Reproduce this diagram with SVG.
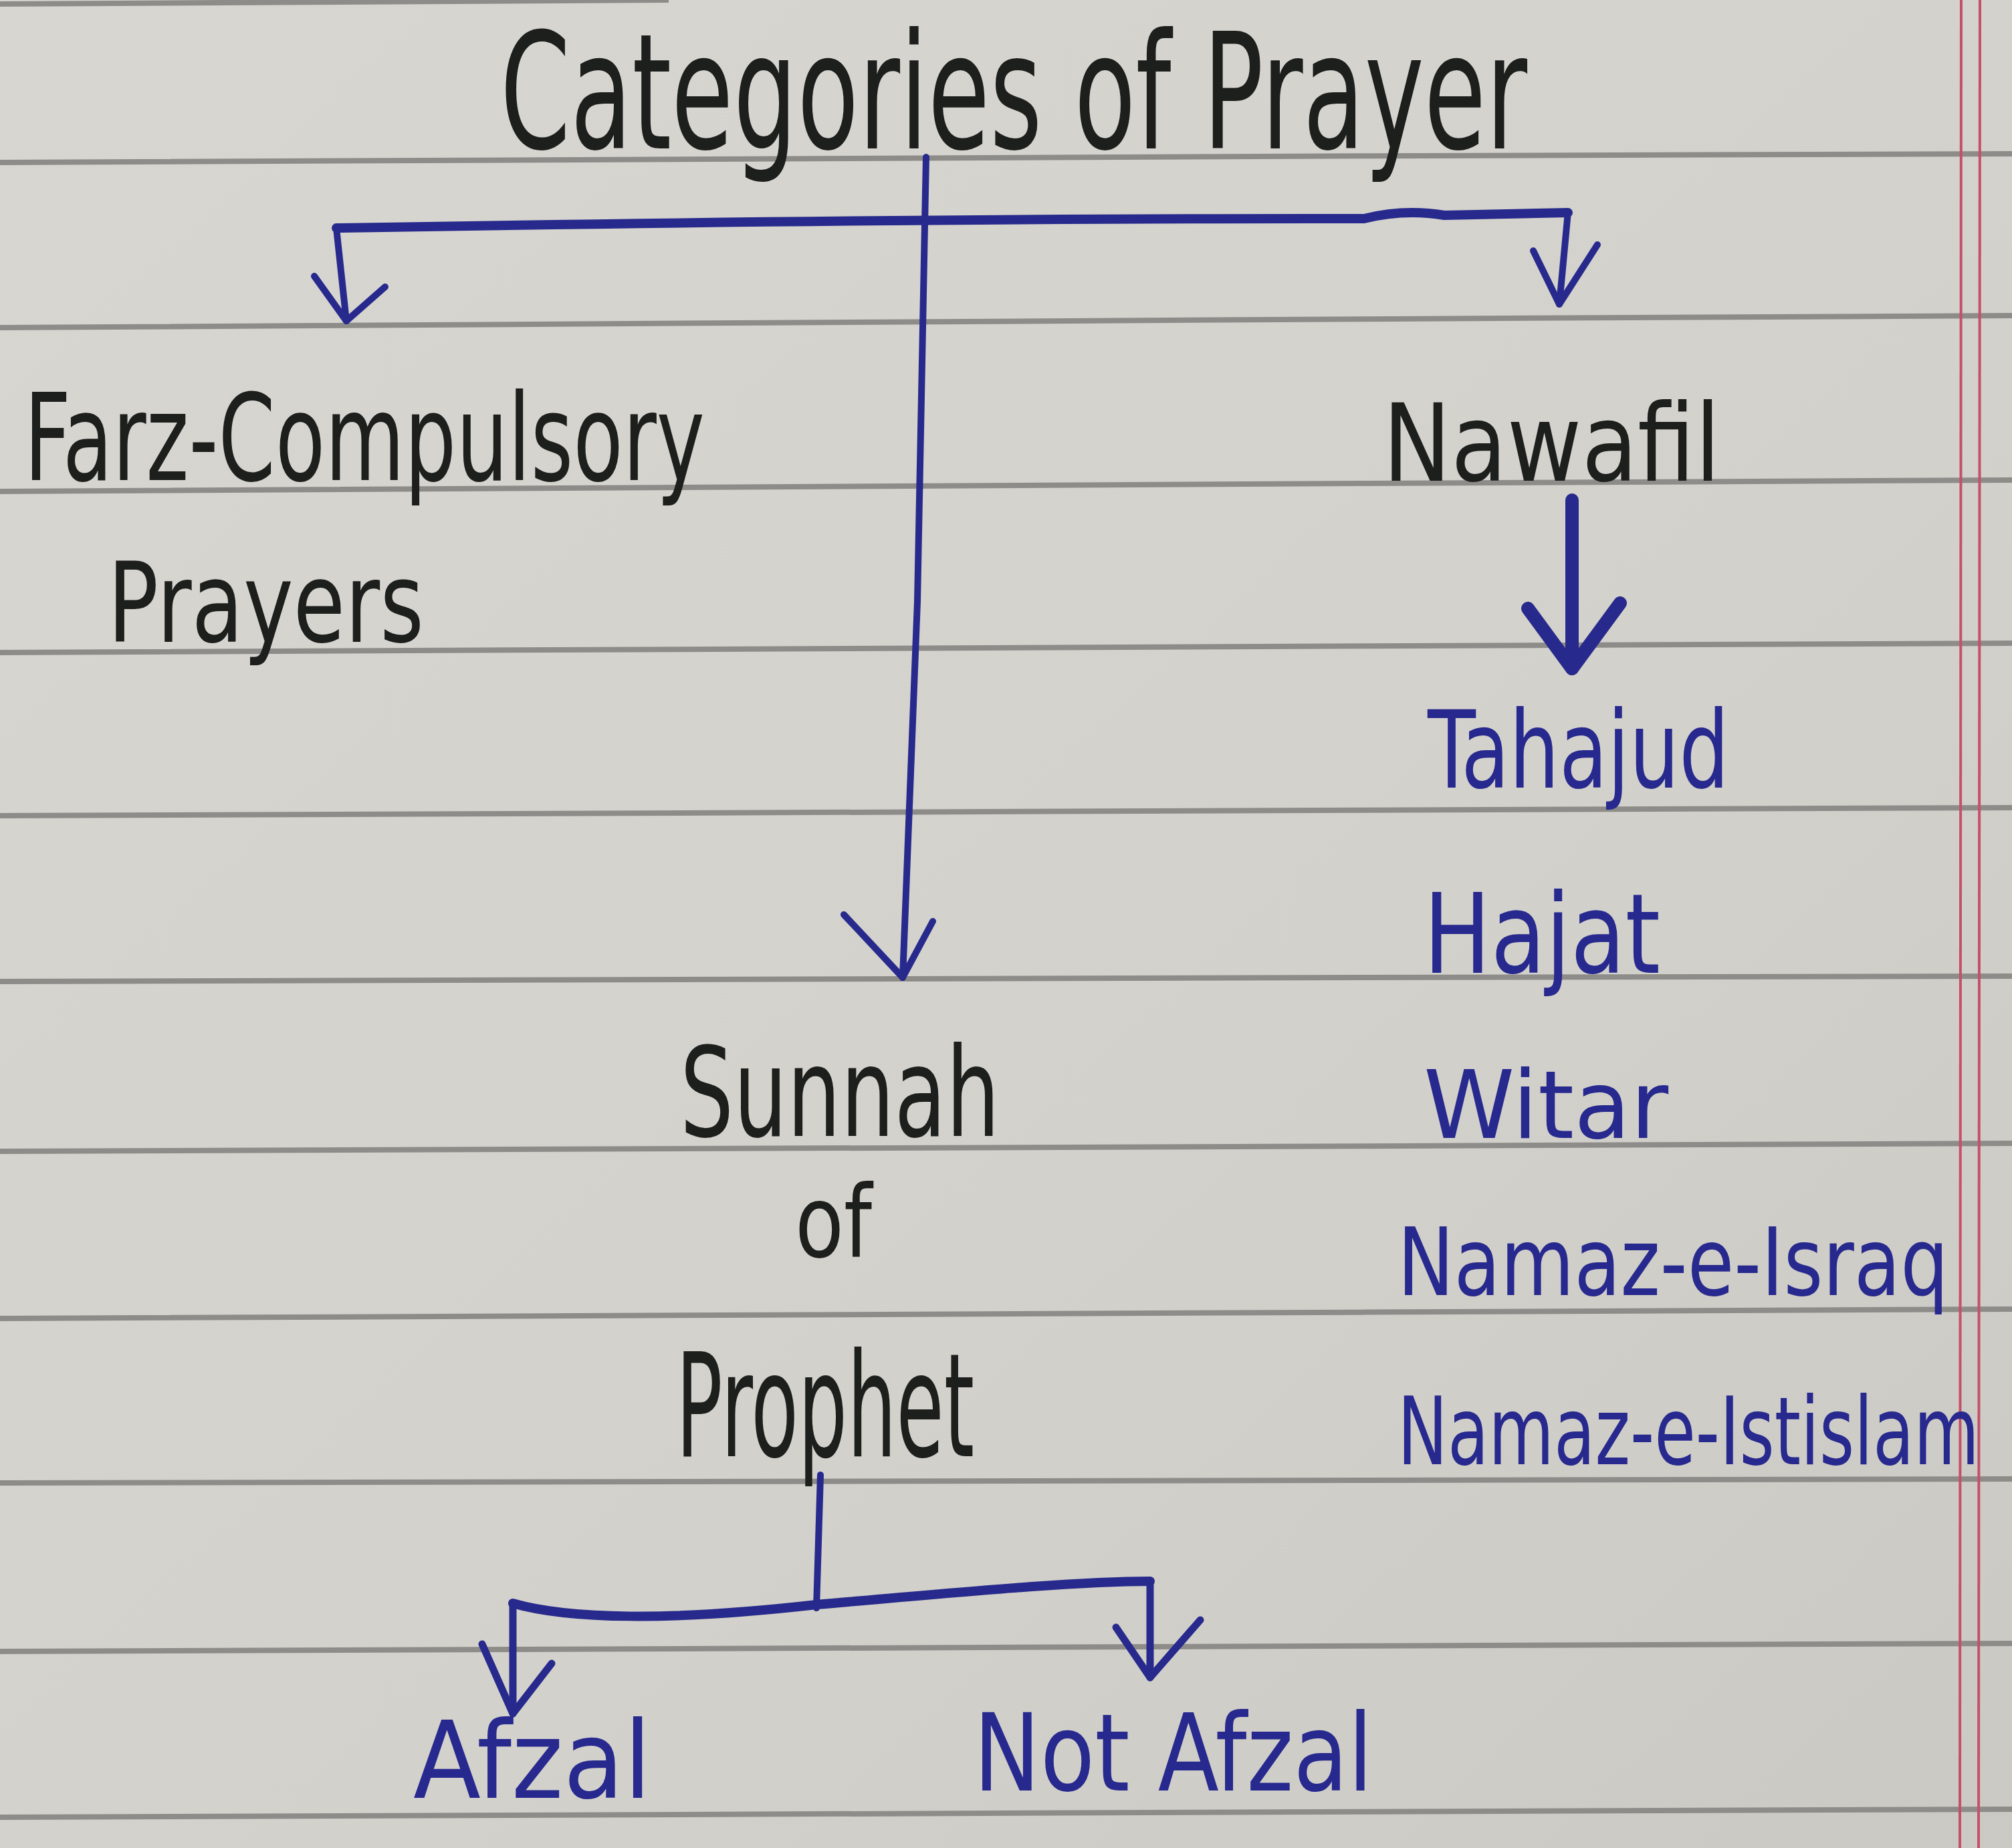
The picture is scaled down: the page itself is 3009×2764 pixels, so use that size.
<svg xmlns="http://www.w3.org/2000/svg" width="3009" height="2764" viewBox="0 0 3009 2764">
<defs>
<linearGradient id="paper" x1="0" y1="0" x2="1" y2="1">
<stop offset="0" stop-color="#d8d6d1"/>
<stop offset="0.6" stop-color="#d3d1cc"/>
<stop offset="1" stop-color="#cbc9c4"/>
</linearGradient>
<style>
.rule{stroke:#8d8c89;stroke-width:8;fill:none}
.margin{stroke:#c4506a;stroke-width:4;fill:none}
.blue{stroke:#272a8c;fill:none;stroke-linecap:round;stroke-linejoin:round}
.ink{font-family:"Liberation Sans Narrow","DejaVu Sans Condensed","Liberation Sans",sans-serif;fill:#1d1f1d}
.bink{font-family:"Liberation Sans Narrow","DejaVu Sans Condensed","Liberation Sans",sans-serif;fill:#27298e}
</style>
</defs>
<g id="paper-bg">
<rect x="0" y="0" width="3009" height="2764" fill="url(#paper)"/>
<path class="rule" d="M0,6 L1000,0"/>
<path class="rule" d="M0,243 C900,240 2000,232 3009,230"/>
<path class="rule" d="M0,490 C900,486 2000,476 3009,472"/>
<path class="rule" d="M0,735 C900,731 2000,722 3009,718"/>
<path class="rule" d="M0,976 C900,972 2000,966 3009,962"/>
<path class="rule" d="M0,1220 C900,1216 2000,1212 3009,1208"/>
<path class="rule" d="M0,1468 C900,1464 2000,1462 3009,1460"/>
<path class="rule" d="M0,1722 C900,1720 2000,1714 3009,1710"/>
<path class="rule" d="M0,1972 C900,1970 2000,1962 3009,1958"/>
<path class="rule" d="M0,2218 C900,2216 2000,2214 3009,2212"/>
<path class="rule" d="M0,2470 C900,2466 2000,2462 3009,2458"/>
<path class="rule" d="M0,2718 C900,2714 2000,2710 3009,2706"/>
<path class="margin" d="M2933,0 L2931,2764"/>
<path class="margin" d="M2961,0 L2959,2764"/>
</g>
<g id="connectors">
<path class="blue" stroke-width="14" d="M503,341 Q1400,326 2040,327 Q2100,312 2160,322 L2345,318"/>
<path class="blue" stroke-width="10" d="M1385,235 L1372,900 L1350,1462"/>
<path class="blue" stroke-width="10" d="M1262,1368 L1350,1462 L1395,1378"/>
<path class="blue" stroke-width="10" d="M503,341 L518,480"/>
<path class="blue" stroke-width="10" d="M470,413 L518,480 L576,429"/>
<path class="blue" stroke-width="10" d="M2345,317 L2332,455"/>
<path class="blue" stroke-width="10" d="M2293,375 L2332,455 L2389,366"/>
<path class="blue" stroke-width="20" d="M2351,748 L2351,1000"/>
<path class="blue" stroke-width="20" d="M2285,910 L2351,1000 L2423,902"/>
<path class="blue" stroke-width="10" d="M1227,2206 L1221,2405"/>
<path class="blue" stroke-width="14" d="M767,2398 C850,2422 1000,2425 1221,2400 C1400,2385 1600,2365 1720,2365"/>
<path class="blue" stroke-width="11" d="M767,2398 L767,2563"/>
<path class="blue" stroke-width="11" d="M721,2459 L767,2563 L825,2488"/>
<path class="blue" stroke-width="11" d="M1720,2365 L1720,2509"/>
<path class="blue" stroke-width="11" d="M1669,2434 L1720,2509 L1795,2423"/>
</g>
<g id="title">
<text class="ink" x="748" y="222" font-size="240" textLength="1536" lengthAdjust="spacingAndGlyphs">Categories of Prayer</text>
</g>
<g id="farz">
<text class="ink" x="36" y="718" font-size="180" textLength="1018" lengthAdjust="spacingAndGlyphs">Farz-Compulsory</text>
<text class="ink" x="161" y="960" font-size="165" textLength="473" lengthAdjust="spacingAndGlyphs">Prayers</text>
</g>
<g id="nawafil">
<text class="ink" x="2068" y="719" font-size="160" textLength="505" lengthAdjust="spacingAndGlyphs">Nawafil</text>
</g>
<g id="nawafil-list">
<text class="bink" x="2135" y="1178" font-size="160" textLength="451" lengthAdjust="spacingAndGlyphs">Tahajud</text>
<text class="bink" x="2129" y="1455" font-size="165" textLength="354" lengthAdjust="spacingAndGlyphs">Hajat</text>
<text class="bink" x="2129" y="1702" font-size="140" textLength="366" lengthAdjust="spacingAndGlyphs">Witar</text>
<text class="bink" x="2090" y="1937" font-size="140" textLength="824" lengthAdjust="spacingAndGlyphs">Namaz-e-Israq</text>
<text class="bink" x="2090" y="2190" font-size="140" textLength="870" lengthAdjust="spacingAndGlyphs">Namaz-e-Istislam</text>
</g>
<g id="sunnah">
<text class="ink" x="1017" y="1699" font-size="185" textLength="478" lengthAdjust="spacingAndGlyphs">Sunnah</text>
<text class="ink" x="1189" y="1880" font-size="150" textLength="115" lengthAdjust="spacingAndGlyphs">of</text>
<text class="ink" x="1011" y="2178" font-size="215" textLength="446" lengthAdjust="spacingAndGlyphs">Prophet</text>
</g>
<g id="afzal">
<text class="bink" x="618" y="2689" font-size="160" textLength="356" lengthAdjust="spacingAndGlyphs">Afzal</text>
</g>
<g id="not-afzal">
<text class="bink" x="1456" y="2678" font-size="160" textLength="597" lengthAdjust="spacingAndGlyphs">Not Afzal</text>
</g>
</svg>
